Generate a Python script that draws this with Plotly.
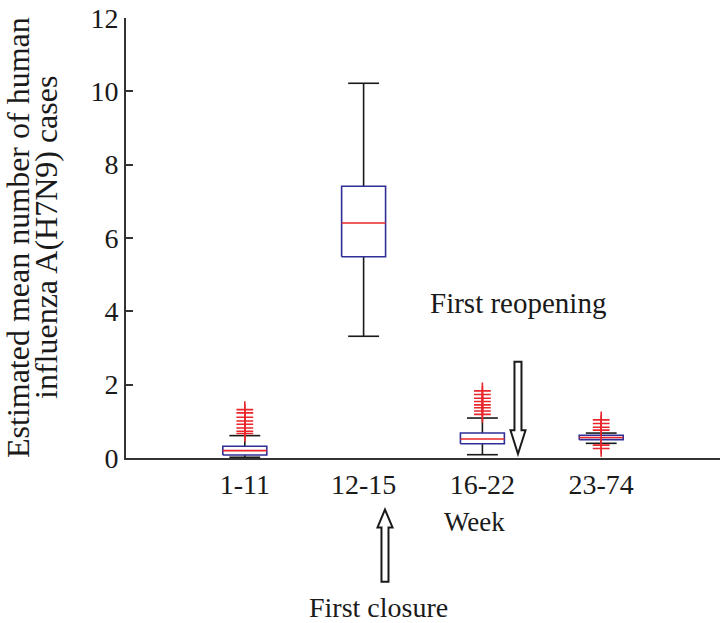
import plotly.graph_objects as go

# ---------------- data ----------------
categories = ["1-11", "12-15", "16-22", "23-74"]
positions = [1, 2, 3, 4]
lower_fence = [0.02, 3.32, 0.09, 0.40]
q1 = [0.08, 5.49, 0.39, 0.50]
median = [0.20, 6.41, 0.52, 0.56]
q3 = [0.32, 7.41, 0.68, 0.62]
upper_fence = [0.61, 10.22, 1.09, 0.68]
outliers = [
    [0.67, 0.73, 0.82, 0.92, 1.01, 1.11, 1.23, 1.32],
    [],
    [1.19, 1.28, 1.37, 1.45, 1.54, 1.63, 1.73, 1.83],
    [0.26, 0.35, 0.76, 0.84, 0.94, 1.04],
]
y_ticks = [0, 2, 4, 6, 8, 10, 12]

BOX_W = 0.37
CAP_W = 0.26
FONT = "Liberation Serif, Times New Roman, serif"
BLUE = "#2e2e96"
RED = "#e8262b"

fig = go.Figure()

# whiskers + caps (black)
wx, wy = [], []
for p, lo, a, b, hi in zip(positions, lower_fence, q1, q3, upper_fence):
    wx += [p, p, None, p, p, None, p - CAP_W / 2, p + CAP_W / 2, None, p - CAP_W / 2, p + CAP_W / 2, None]
    wy += [b, hi, None, a, lo, None, hi, hi, None, lo, lo, None]
fig.add_trace(go.Scatter(x=wx, y=wy, mode="lines", line=dict(color="#1a1a1a", width=1.6),
                         hoverinfo="skip", showlegend=False))

# boxes (blue)
bx, by = [], []
for p, a, b in zip(positions, q1, q3):
    l, r = p - BOX_W / 2, p + BOX_W / 2
    bx += [l, r, r, l, l, None]
    by += [a, a, b, b, a, None]
fig.add_trace(go.Scatter(x=bx, y=by, mode="lines", line=dict(color=BLUE, width=1.6),
                         fill="toself", fillcolor="white", hoverinfo="skip", showlegend=False))

# medians (red)
mx, my = [], []
for p, m in zip(positions, median):
    mx += [p - BOX_W / 2, p + BOX_W / 2, None]
    my += [m, m, None]
fig.add_trace(go.Scatter(x=mx, y=my, mode="lines", line=dict(color=RED, width=1.6),
                         hoverinfo="skip", showlegend=False))

# outliers (red +)
ox, oy = [], []
for p, vals in zip(positions, outliers):
    for v in vals:
        ox.append(p)
        oy.append(v)
fig.add_trace(go.Scatter(x=ox, y=oy, mode="markers",
                         marker=dict(symbol="cross-thin", size=12, line=dict(color=RED, width=1.6)),
                         hoverinfo="skip", showlegend=False))

# ---------------- layout ----------------
L, R, T, B = 126, 3, 14, 165
W, H = 723, 623
PW, PH = W - L - R, H - T - B


def px2paper(px, py):
    return (px - L) / PW, (H - B - py) / PH


def block_arrow(cx, tail_y, tip_y, head_y, shaft_hw, head_hw):
    pts = [(cx - shaft_hw, tail_y), (cx + shaft_hw, tail_y), (cx + shaft_hw, head_y),
           (cx + head_hw, head_y), (cx, tip_y), (cx - head_hw, head_y), (cx - shaft_hw, head_y)]
    path = ""
    for i, (x, y) in enumerate(pts):
        u, v = px2paper(x, y)
        path += ("M" if i == 0 else "L") + f"{u:.4f},{v:.4f} "
    return dict(type="path", xref="paper", yref="paper", path=path + "Z",
                line=dict(color="#1a1a1a", width=2), fillcolor="white", layer="above")


shapes = [
    block_arrow(518, 361, 454, 430, 3.5, 7.5),
    block_arrow(385, 583, 510, 528, 3.5, 7.5),
]


def ann(text, px, py, size=28, angle=0):
    u, v = px2paper(px, py)
    return dict(text=text, x=u, y=v, xref="paper", yref="paper", showarrow=False,
                xanchor="center", yanchor="middle", textangle=angle,
                font=dict(family=FONT, size=size, color="#1a1a1a"))


annotations = [
    ann("First reopening", 518, 302, 29),
    ann("Week", 474, 523, 27),
    ann("First closure", 378, 609, 28),
    ann("Estimated mean number of human", 18, 236, 32, -90),
    ann("influenza A(H7N9) cases", 46, 236, 32, -90),
]

fig.update_layout(
    width=W, height=H,
    margin=dict(l=L, r=R, t=T, b=B, pad=0),
    paper_bgcolor="white", plot_bgcolor="white",
    font=dict(family=FONT, size=28, color="#1a1a1a"),
    shapes=shapes, annotations=annotations,
    showlegend=False,
    xaxis=dict(range=[0, 5], tickvals=positions, ticktext=categories,
               showgrid=False, zeroline=False, showline=True, linecolor="#333333", linewidth=2,
               ticks="", tickfont=dict(family=FONT, size=28), fixedrange=True),
    yaxis=dict(range=[0, 12], tickvals=y_ticks, ticktext=[str(t) for t in y_ticks],
               showgrid=False, zeroline=False, showline=True, linecolor="#333333", linewidth=2,
               ticks="inside", ticklen=7, tickwidth=1.5, tickcolor="#333333",
               ticklabeloverflow="allow",
               tickfont=dict(family=FONT, size=28), fixedrange=True),
)

fig.write_html("out.html", config={"displayModeBar": False},
               post_script="document.body.style.margin='0';document.body.style.overflow='hidden';")
